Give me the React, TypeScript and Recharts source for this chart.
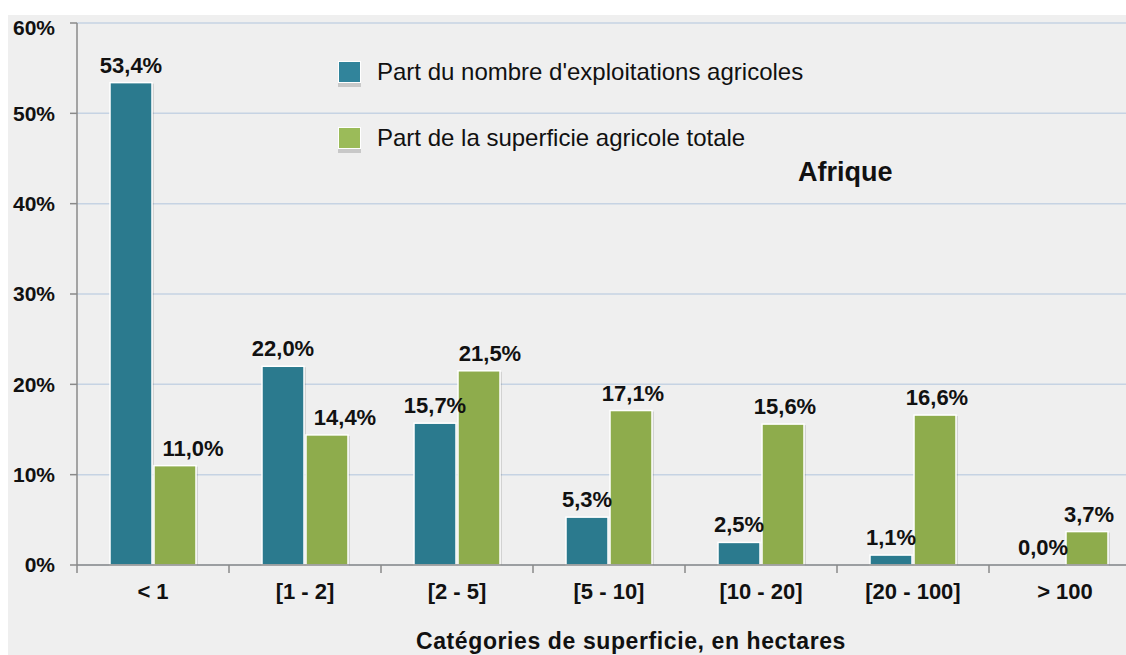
import { BarChart, Bar, XAxis, YAxis, CartesianGrid, Legend, LabelList } from 'recharts'

const categories = ['< 1', '[1 - 2]', '[2 - 5]', '[5 - 10]', '[10 - 20]', '[20 - 100]', '> 100']
const partExploitations = [53.4, 22.0, 15.7, 5.3, 2.5, 1.1, 0.0]
const partSuperficie = [11.0, 14.4, 21.5, 17.1, 15.6, 16.6, 3.7]
const yTicks = [0, 10, 20, 30, 40, 50, 60]

const data = categories.map((c, i) => ({
  name: c,
  exploitations: partExploitations[i],
  superficie: partSuperficie[i],
}))

const FONT = '"Liberation Sans", Arial, Helvetica, sans-serif'
const BLUE = '#2b7a8e'
const GREEN = '#8eac4c'
const PLOT_LEFT = 69
const PLOT_W = 1064
const HALF_BAND = PLOT_W / categories.length / 2

const fmt = (v: number) => v.toFixed(1).replace('.', ',') + '%'

function BarShape(props: any) {
  const { x, y, width, height, fill } = props
  if (!height || height <= 0) return null
  return (
    <g>
      <rect x={x + 2} y={y + 1} width={width} height={height - 1} fill="rgba(0,0,0,0.12)" />
      <rect x={x} y={y} width={width} height={height} fill={fill} stroke="#ffffff" strokeWidth={1.5} />
    </g>
  )
}

// green labels get pushed right when the blue label of the same group is close by
function GreenLabel(props: any) {
  const { x, y, width, value, index } = props
  const blue = partExploitations[index]
  const shift = blue > value ? 18 : value - blue < 8 && blue > 1 ? 11 : 2
  return (
    <text
      x={x + width / 2 + shift}
      y={y - 10}
      textAnchor="middle"
      fontSize={22}
      fontWeight="bold"
      fill="#111"
      fontFamily={FONT}
    >
      {fmt(Number(value))}
    </text>
  )
}

function CategoryTick(props: any) {
  const { x, y, payload } = props
  return (
    <g>
      <line x1={x - HALF_BAND} y1={y} x2={x - HALF_BAND} y2={y + 8} stroke="#8a8a8a" strokeWidth={1.5} />
      <text x={x} y={y + 34} textAnchor="middle" fontSize={22} fontWeight="bold" fill="#111" fontFamily={FONT}>
        {payload.value}
      </text>
    </g>
  )
}

function LegendBox() {
  const items = [
    { label: "Part du nombre d'exploitations agricoles", color: '#31849b' },
    { label: 'Part de la superficie agricole totale', color: '#9bbb59' },
  ]
  return (
    <div style={{ position: 'relative', fontFamily: FONT }}>
      {items.map((it) => (
        <div key={it.label} style={{ display: 'flex', alignItems: 'center', height: 22, marginBottom: 44 }}>
          <div
            style={{
              width: 21,
              height: 20,
              background: it.color,
              border: '1px solid #fff',
              boxShadow: '0 4px 0 #c8c8c8',
            }}
          />
          <span style={{ marginLeft: 16, fontSize: 24, color: '#111', whiteSpace: 'nowrap' }}>{it.label}</span>
        </div>
      ))}
    </div>
  )
}

export default function App() {
  return (
    <div
      style={{
        position: 'absolute',
        left: 8,
        top: 15,
        width: 1118,
        height: 640,
        background: '#efefef',
        overflow: 'hidden',
      }}
    >
      <BarChart
        width={PLOT_LEFT + PLOT_W}
        height={640}
        data={data}
        margin={{ top: 8, right: 0, left: 0, bottom: 0 }}
        barSize={42}
        barGap={2}
      >
        <CartesianGrid horizontal vertical={false} stroke="#c6d3e3" strokeWidth={1.5} />
        <XAxis
          dataKey="name"
          height={90}
          tickSize={0}
          tickMargin={0}
          tick={<CategoryTick />}
          interval={0}
          axisLine={{ stroke: '#8a8a8a', strokeWidth: 1.5 }}
          label={{
            value: 'Catégories de superficie, en hectares',
            position: 'insideBottom',
            offset: 6,
            dx: 22,
            fontSize: 23,
            fontWeight: 'bold',
            fill: '#111',
            fontFamily: FONT,
            letterSpacing: 0.6,
          }}
        />
        <YAxis
          width={PLOT_LEFT}
          domain={[0, 60]}
          ticks={yTicks}
          tickFormatter={(v: number) => `${v}%`}
          tickSize={7}
          tickMargin={15}
          tick={{ fontSize: 21, fontWeight: 'bold', fill: '#111', fontFamily: FONT }}
          axisLine={{ stroke: '#8a8a8a', strokeWidth: 1.5 }}
          tickLine={{ stroke: '#8a8a8a', strokeWidth: 1.5 }}
        />
        <Legend
          layout="vertical"
          align="center"
          verticalAlign="middle"
          content={<LegendBox />}
          wrapperStyle={{ left: 330, top: 46, width: 520, height: 120 }}
        />
        <Bar dataKey="exploitations" name="Part du nombre d'exploitations agricoles" fill={BLUE} shape={<BarShape />} isAnimationActive={false}>
          <LabelList dataKey="exploitations" position="top" offset={10} formatter={(v: any) => fmt(Number(v))} fontSize={22} fontWeight="bold" fill="#111" fontFamily={FONT} />
        </Bar>
        <Bar dataKey="superficie" name="Part de la superficie agricole totale" fill={GREEN} shape={<BarShape />} isAnimationActive={false}>
          <LabelList dataKey="superficie" content={<GreenLabel />} />
        </Bar>
      </BarChart>
      <div
        style={{
          position: 'absolute',
          left: 790,
          top: 142,
          fontFamily: FONT,
          fontWeight: 'bold',
          fontSize: 27,
          color: '#111',
        }}
      >
        Afrique
      </div>
    </div>
  )
}
